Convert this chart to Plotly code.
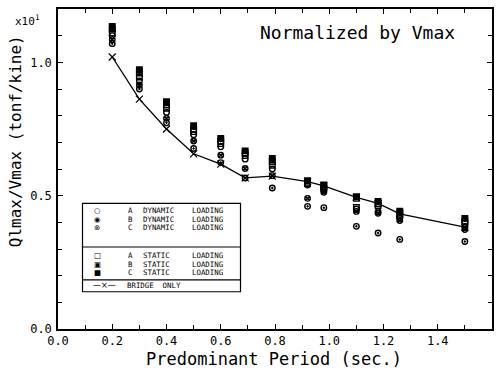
import plotly.graph_objects as go

# ---------------- data ----------------
periods = [0.20, 0.30, 0.40, 0.50, 0.60, 0.69, 0.79, 0.92, 0.98, 1.10, 1.18, 1.26, 1.50]

bridge_only = [1.02, 0.862, 0.75, 0.657, 0.618, 0.567, 0.573, 0.553, 0.537, 0.494, 0.471, 0.432, 0.382]

dyn_a = [1.100, 0.930, 0.812, 0.728, 0.683, 0.637, 0.600, 0.540, 0.520, 0.450, 0.440, 0.416, 0.382]
dyn_b = [1.070, 0.900, 0.773, 0.677, 0.624, 0.566, 0.529, 0.460, 0.455, 0.385, 0.360, 0.336, 0.328]
dyn_c = [1.085, 0.915, 0.790, 0.705, 0.652, 0.602, 0.575, 0.490, 0.513, 0.441, 0.434, 0.407, 0.373]

sta_a = [1.110, 0.945, 0.828, 0.740, 0.695, 0.650, 0.614, 0.545, 0.528, 0.456, 0.463, 0.425, 0.396]
sta_b = [1.125, 0.960, 0.840, 0.750, 0.705, 0.660, 0.628, 0.550, 0.535, 0.490, 0.470, 0.434, 0.405]
sta_c = [1.135, 0.972, 0.852, 0.762, 0.715, 0.668, 0.640, 0.556, 0.540, 0.496, 0.478, 0.442, 0.415]

x_tickvals = [0.0, 0.2, 0.4, 0.6, 0.8, 1.0, 1.2, 1.4]
x_ticktext = ["0.0", "0.2", "0.4", "0.6", "0.8", "1.0", "1.2", "1.4"]
y_tickvals = [0.0, 0.5, 1.0]
y_ticktext = ["0.0", "0.5", "1.0"]

model_letters = ["A", "B", "C"]
dyn_glyphs = ["\u25cb", "\u25c9", "\u2297"]
sta_glyphs = ["\u25a1", "\u25a3", "\u25a0"]
dyn_word = "DYNAMIC"
sta_word = "STATIC"
load_word = "LOADING"
bridge_label = "BRIDGE\u00a0\u00a0ONLY"

# ---------------- layout geometry ----------------
W, H = 502, 375
ML, MR, MT, MB = 58, 10, 7, 46
PW, PH = W - ML - MR, H - MT - MB


def px(x):
    return (x - ML) / PW


def py(y):
    return (H - MB - y) / PH


MONO = "DejaVu Sans Mono"
BLK = "black"

fig = go.Figure()

fig.add_trace(go.Scatter(
    x=periods, y=bridge_only, mode="lines+markers",
    line=dict(color=BLK, width=1.3),
    marker=dict(symbol="x-thin-open", size=7, line=dict(color=BLK, width=1.2)),
    showlegend=False, hoverinfo="skip"))

series = [
    (dyn_a, "circle-open"),
    (dyn_b, "circle-open-dot"),
    (dyn_c, "circle-x-open"),
    (sta_a, "square-open"),
    (sta_b, "square-open-dot"),
    (sta_c, "square"),
]
for vals, sym in series:
    fig.add_trace(go.Scatter(
        x=periods, y=vals, mode="markers",
        marker=dict(symbol=sym, size=5.5, color=BLK, line=dict(color=BLK, width=1.4)),
        showlegend=False, hoverinfo="skip"))

axis_common = dict(
    showgrid=False, zeroline=False, showline=True, linecolor=BLK, linewidth=1.5,
    mirror="allticks", ticks="inside", ticklen=5, tickwidth=1, tickcolor=BLK,
    tickfont=dict(family=MONO, size=12, color=BLK),
)

fig.update_xaxes(range=[0, 1.6], tickmode="array", tickvals=x_tickvals, ticktext=x_ticktext,
                 minor=dict(dtick=0.1, tick0=0, ticks="inside", ticklen=4, tickcolor=BLK),
                 ticklabelstandoff=0, **axis_common)
fig.update_yaxes(range=[0, 1.2], tickmode="array", tickvals=y_tickvals, ticktext=y_ticktext,
                 minor=dict(dtick=0.1, tick0=0, ticks="inside", ticklen=4, tickcolor=BLK),
                 ticklabelstandoff=2, **axis_common)

annotations = [
    dict(text="Normalized by Vmax", x=px(258), y=py(31), xanchor="left", yanchor="middle",
         font=dict(family=MONO, size=18, color=BLK)),
    dict(text="Predominant Period (sec.)", x=px(274), y=py(359), xanchor="center", yanchor="middle",
         font=dict(family=MONO, size=17, color=BLK)),
    dict(text="Qlmax/Vmax (tonf/kine)", x=px(15), y=py(140), xanchor="center", yanchor="middle",
         textangle=-90, font=dict(family=MONO, size=16, color=BLK)),
    dict(text="x10<sup>1</sup>", x=px(27), y=py(19), xanchor="center", yanchor="middle",
         font=dict(family=MONO, size=11, color=BLK)),
]

# legend, drawn as text columns (line spacing from small base font, glyph size from span)
ROW_FS = 6.7
TXT = 7.4


def block(lines, size):
    return "<br>".join(f"<span style='font-size:{size}px'>{t}</span>" for t in lines)


def col(lines, x, yc, anchor, fam=MONO, size=TXT):
    annotations.append(dict(text=block(lines, size), x=px(x), y=py(yc), xanchor=anchor,
                            yanchor="middle", align="left",
                            font=dict(family=fam, size=ROW_FS, color=BLK)))


for glyphs, word, yc in [(dyn_glyphs, dyn_word, 218.7), (sta_glyphs, sta_word, 263.7)]:
    col(glyphs, 97.5, yc, "center", fam="DejaVu Sans", size=7.4)
    col(model_letters, 130, yc, "center")
    col([word] * 3, 141, yc, "left")
    col([load_word] * 3, 190, yc, "left")

annotations.append(dict(text="\u2014\u00d7\u2014", x=px(104), y=py(285), xanchor="center", yanchor="middle",
                        font=dict(family="DejaVu Sans", size=8, color=BLK)))
annotations.append(dict(text=bridge_label, x=px(125), y=py(285), xanchor="left", yanchor="middle",
                        font=dict(family=MONO, size=TXT, color=BLK)))
for a in annotations:
    a.update(xref="paper", yref="paper", showarrow=False)

shapes = [
    dict(type="rect", x0=px(82.5), x1=px(240.5), y0=py(202.5), y1=py(291.5)),
    dict(type="line", x0=px(82.5), x1=px(240.5), y0=py(246.5), y1=py(246.5)),
    dict(type="line", x0=px(82.5), x1=px(240.5), y0=py(279.5), y1=py(279.5)),
]
for s in shapes:
    s.update(xref="paper", yref="paper", line=dict(color=BLK, width=1.2), fillcolor="white", layer="above")
shapes[0]["layer"] = "below"

fig.update_layout(
    width=W, height=H, margin=dict(l=ML, r=MR, t=MT, b=MB, pad=0),
    paper_bgcolor="white", plot_bgcolor="white",
    annotations=annotations, shapes=shapes, showlegend=False,
)

fig.write_html("out.html")
